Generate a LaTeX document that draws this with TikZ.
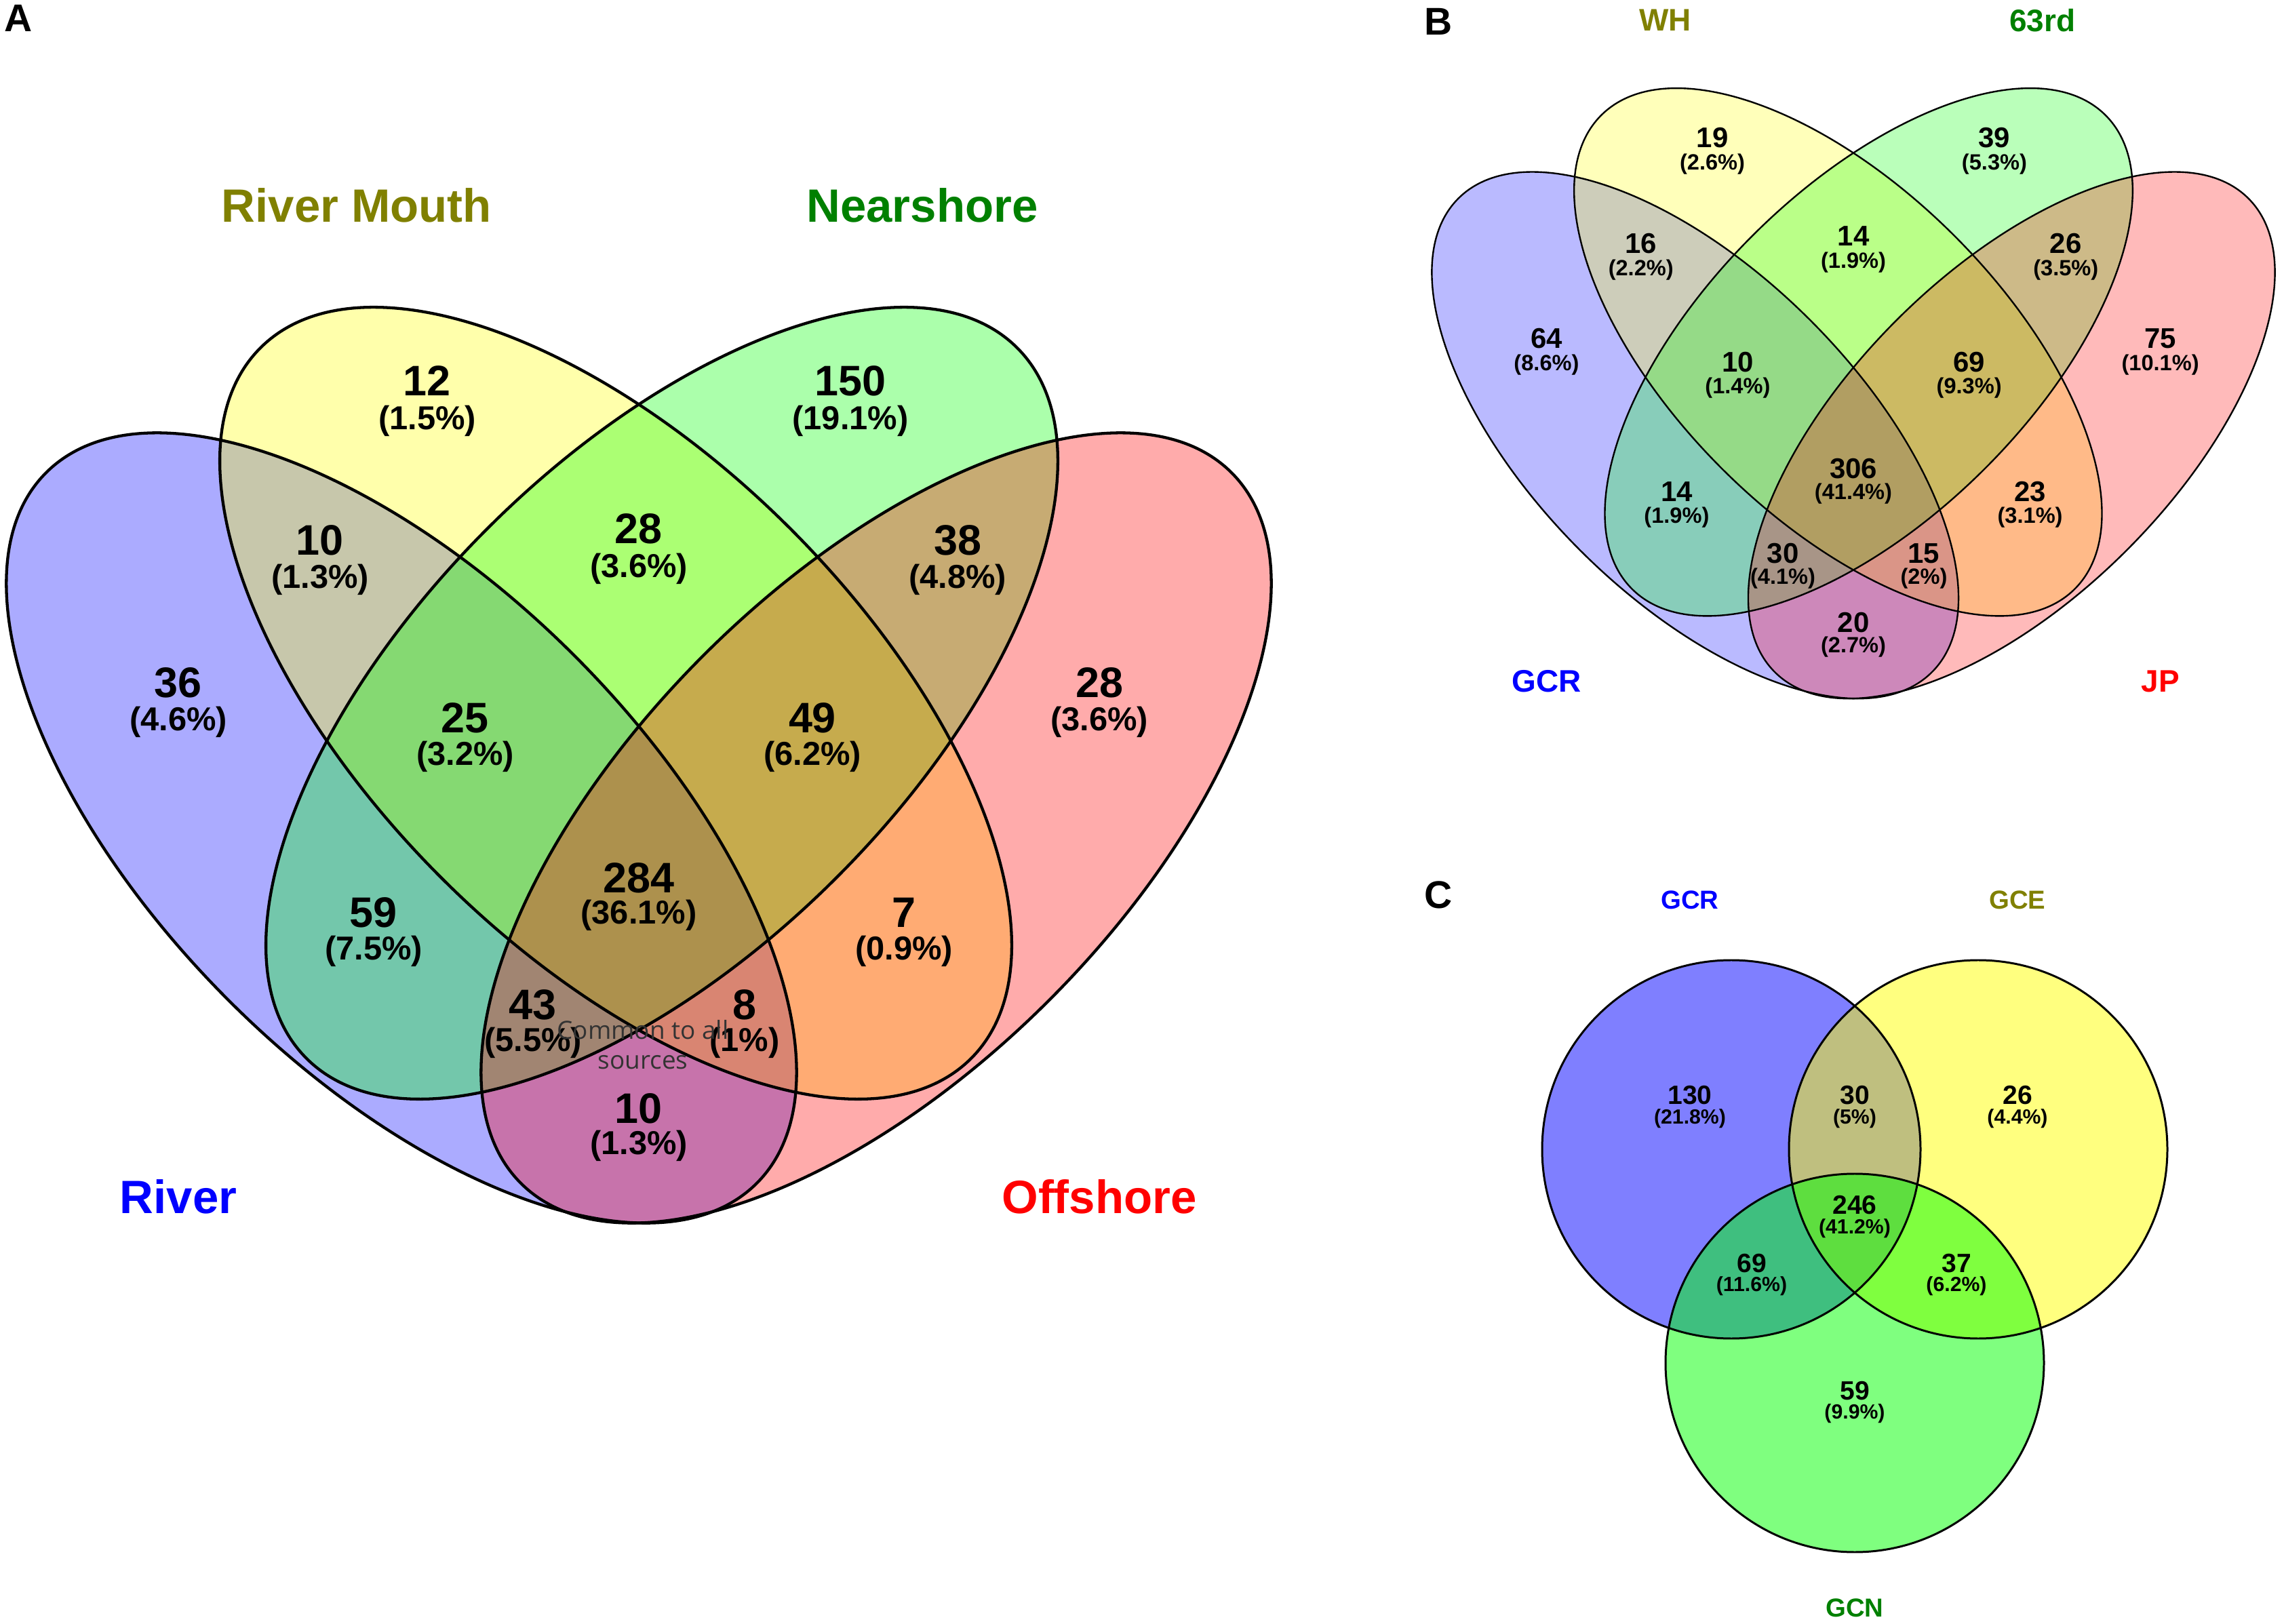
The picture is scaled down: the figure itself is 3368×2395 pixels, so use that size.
\documentclass[tikz,border=0pt]{standalone}
\usepackage{fontspec}
\setmainfont{Liberation Sans}
\newfontfamily\opensans{Open Sans}
\definecolor{vblue}{RGB}{0,0,255}
\definecolor{vyellow}{RGB}{255,255,0}
\definecolor{vgreen}{RGB}{0,255,0}
\definecolor{vred}{RGB}{255,0,0}
\definecolor{labblue}{RGB}{0,0,255}
\definecolor{labolive}{RGB}{128,128,0}
\definecolor{labgreen}{RGB}{0,128,0}
\definecolor{labred}{RGB}{255,0,0}
\newcommand\quadfills[1]{%
  \fill[vblue, fill opacity=#1, rotate around={-45:(592,1221)}] (592,1221) ellipse [x radius=741, y radius=360];
  \fill[vyellow, fill opacity=#1, rotate around={-45:(908,1037)}] (908,1037) ellipse [x radius=741, y radius=364];
  \fill[vgreen, fill opacity=#1, rotate around={45:(976,1037)}] (976,1037) ellipse [x radius=741, y radius=364];
  \fill[vred, fill opacity=#1, rotate around={45:(1292,1221)}] (1292,1221) ellipse [x radius=741, y radius=360];
}
\newcommand\quadlines[1]{%
  \draw[line width=#1, rotate around={-45:(592,1221)}] (592,1221) ellipse [x radius=741, y radius=360];
  \draw[line width=#1, rotate around={-45:(908,1037)}] (908,1037) ellipse [x radius=741, y radius=364];
  \draw[line width=#1, rotate around={45:(976,1037)}] (976,1037) ellipse [x radius=741, y radius=364];
  \draw[line width=#1, rotate around={45:(1292,1221)}] (1292,1221) ellipse [x radius=741, y radius=360];
}
\begin{document}
\begin{tikzpicture}[x=0.01cm,y=-0.01cm,
  every node/.style={inner sep=0pt, outer sep=0pt, align=center},
  numA/.style={font=\fontsize{17.9}{18}\selectfont\bfseries},
  pctA/.style={font=\fontsize{13.9}{14}\selectfont\bfseries},
  catA/.style={font=\fontsize{19.6}{20}\selectfont\bfseries},
  numC/.style={font=\fontsize{11.1}{12}\selectfont\bfseries},
  pctC/.style={font=\fontsize{8.6}{9}\selectfont\bfseries},
  catC/.style={font=\fontsize{10.9}{11}\selectfont\bfseries},
  panel/.style={font=\fontsize{16.2}{17}\selectfont\bfseries},
  note/.style={font=\fontsize{10.5}{11}\selectfont\opensans, text=black!80}
]
\useasboundingbox (0,0) rectangle (3368,2395);

% ---------------- Panel A ----------------
\node[panel] (pA) at (27,27) {A};
\quadfills{0.33}
\quadlines{1.22pt}
\node[catA, text=labolive] (aRM) at (526,303) {River Mouth};
\node[catA, text=labgreen] (aNS) at (1360,303) {Nearshore};
\node[catA, text=labblue] (aRv) at (263,1765) {River};
\node[catA, text=labred] (aOf) at (1621,1765) {Offshore};

\node[numA] (a1n) at (630,562) {12};   \node[pctA] (a1p) at (630,621) {(1.5\%)};
\node[numA] (a2n) at (1254,562) {150}; \node[pctA] (a2p) at (1254,621) {(19.1\%)};
\node[numA] (a3n) at (472,797) {10};   \node[pctA] (a3p) at (472,855) {(1.3\%)};
\node[numA] (a4n) at (942,780) {28};   \node[pctA] (a4p) at (942,839) {(3.6\%)};
\node[numA] (a5n) at (1412,797) {38};  \node[pctA] (a5p) at (1412,855) {(4.8\%)};
\node[numA] (a6n) at (263,1007) {36};  \node[pctA] (a6p) at (263,1065) {(4.6\%)};
\node[numA] (a7n) at (1621,1007) {28}; \node[pctA] (a7p) at (1621,1065) {(3.6\%)};
\node[numA] (a8n) at (686,1059) {25};  \node[pctA] (a8p) at (686,1116) {(3.2\%)};
\node[numA] (a9n) at (1198,1059) {49}; \node[pctA] (a9p) at (1198,1116) {(6.2\%)};
\node[numA] (a10n) at (942,1295) {284}; \node[pctA] (a10p) at (942,1350) {(36.1\%)};
\node[numA] (a11n) at (551,1346) {59};  \node[pctA] (a11p) at (551,1403) {(7.5\%)};
\node[numA] (a12n) at (1333,1346) {7};  \node[pctA] (a12p) at (1333,1403) {(0.9\%)};
\node[numA] (a13n) at (786,1482) {43};  \node[pctA] (a13p) at (786,1538) {(5.5\%)};
\node[numA] (a14n) at (1098,1482) {8};  \node[pctA] (a14p) at (1098,1538) {(1\%)};
\node[numA] (a15n) at (942,1635) {10};  \node[pctA] (a15p) at (942,1690) {(1.3\%)};
\node[note] (aC1) at (948,1519) {Common to all};
\node[note] (aC2) at (948,1567) {sources};

% ---------------- Panel B ----------------
\node[panel] (pB) at (2121,32) {B};
\begin{scope}[shift={(2733,130)}, scale=0.6665, shift={(-942,-453)}, every node/.append style={transform shape}]
\quadfills{0.27}
\quadlines{0.68pt}
\node[catA, text=labolive] (bWH) at (526,303) {WH};
\node[catA, text=labgreen] (b63) at (1360,303) {63rd};
\node[catA, text=labblue] (bGR) at (263,1765) {GCR};
\node[catA, text=labred] (bJP) at (1621,1765) {JP};

\node[numA] (b1n) at (630,562) {19};   \node[pctA] (b1p) at (630,621) {(2.6\%)};
\node[numA] (b2n) at (1254,562) {39};  \node[pctA] (b2p) at (1254,621) {(5.3\%)};
\node[numA] (b3n) at (472,797) {16};   \node[pctA] (b3p) at (472,855) {(2.2\%)};
\node[numA] (b4n) at (942,780) {14};   \node[pctA] (b4p) at (942,839) {(1.9\%)};
\node[numA] (b5n) at (1412,797) {26};  \node[pctA] (b5p) at (1412,855) {(3.5\%)};
\node[numA] (b6n) at (263,1007) {64};  \node[pctA] (b6p) at (263,1065) {(8.6\%)};
\node[numA] (b7n) at (1621,1007) {75}; \node[pctA] (b7p) at (1621,1065) {(10.1\%)};
\node[numA] (b8n) at (686,1059) {10};  \node[pctA] (b8p) at (686,1116) {(1.4\%)};
\node[numA] (b9n) at (1198,1059) {69}; \node[pctA] (b9p) at (1198,1116) {(9.3\%)};
\node[numA] (b10n) at (942,1295) {306}; \node[pctA] (b10p) at (942,1350) {(41.4\%)};
\node[numA] (b11n) at (551,1346) {14};  \node[pctA] (b11p) at (551,1403) {(1.9\%)};
\node[numA] (b12n) at (1333,1346) {23}; \node[pctA] (b12p) at (1333,1403) {(3.1\%)};
\node[numA] (b13n) at (786,1482) {30};  \node[pctA] (b13p) at (786,1538) {(4.1\%)};
\node[numA] (b14n) at (1098,1482) {15}; \node[pctA] (b14p) at (1098,1538) {(2\%)};
\node[numA] (b15n) at (942,1635) {20};  \node[pctA] (b15p) at (942,1690) {(2.7\%)};
\end{scope}

% ---------------- Panel C ----------------
\node[panel] (pC) at (2121,1320) {C};
\fill[vblue, fill opacity=0.5] (2553,1695) circle [radius=279];
\fill[vyellow, fill opacity=0.5] (2917,1695) circle [radius=279];
\fill[vgreen, fill opacity=0.5] (2735,2010) circle [radius=279];
\draw[line width=0.85pt] (2553,1695) circle [radius=279];
\draw[line width=0.85pt] (2917,1695) circle [radius=279];
\draw[line width=0.85pt] (2735,2010) circle [radius=279];
\node[catC, text=labblue] (cGR) at (2492,1327) {GCR};
\node[catC, text=labolive] (cGE) at (2975,1327) {GCE};
\node[catC, text=labgreen] (cGN) at (2735,2371) {GCN};
\node[numC] (c1n) at (2492,1615) {130}; \node[pctC] (c1p) at (2492,1650) {(21.8\%)};
\node[numC] (c2n) at (2735,1615) {30};  \node[pctC] (c2p) at (2735,1650) {(5\%)};
\node[numC] (c3n) at (2975,1615) {26};  \node[pctC] (c3p) at (2975,1650) {(4.4\%)};
\node[numC] (c4n) at (2735,1777) {246}; \node[pctC] (c4p) at (2735,1812) {(41.2\%)};
\node[numC] (c5n) at (2583,1863) {69};  \node[pctC] (c5p) at (2583,1897) {(11.6\%)};
\node[numC] (c6n) at (2885,1863) {37};  \node[pctC] (c6p) at (2885,1897) {(6.2\%)};
\node[numC] (c7n) at (2735,2051) {59};  \node[pctC] (c7p) at (2735,2085) {(9.9\%)};
\end{tikzpicture}
\end{document}
